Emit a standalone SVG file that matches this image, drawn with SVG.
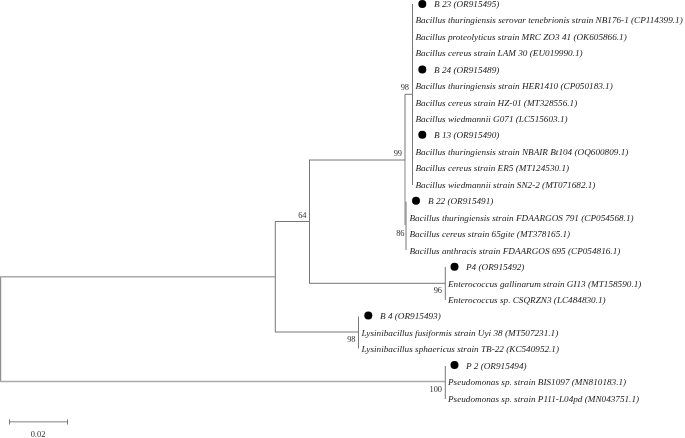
<svg xmlns="http://www.w3.org/2000/svg" width="685" height="438" viewBox="0 0 685 438">
<style>
.t{font:italic 9.2px "Liberation Serif",serif;fill:#222;filter:url(#soft)}
.n{font:8.4px "Liberation Serif",serif;fill:#333;filter:url(#soft)}
.dot{fill:#000}
#connectors path{fill:none;stroke:#777;stroke-width:1}
#connectors path.l{stroke:#aaa;stroke-width:1.4}
</style>
<defs><filter id="soft" x="-5%" y="-30%" width="110%" height="160%"><feGaussianBlur stdDeviation="0.25"/></filter></defs>
<rect width="685" height="438" fill="#fff"/>
<g id="connectors">
<path d="M.7 277V381.500"/>
<path class="l" d="M0 276.800H275M0 381.500H445M405 160V225M9.500 421.800H67.500"/>
<path d="M275.300 221.500V332M275 221.500H309.500M275 332H358.500"/>
<path d="M309.500 160V283.300M309 160H405M309 283.300H445"/>
<path d="M405 94.300H412.500M412.500 4V185M405 94.300V160"/>
<path d="M406 201.700V250"/>
<path d="M445.300 267V300M358.500 316.500V348.500M445.300 366V399"/>
<path d="M9.500 419.500V424.500M67.500 419.500V424.500"/>
</g>
<g id="scale"><text class="n" x="38" y="437" text-anchor="middle">0.02</text></g>
<g id="n1"><circle class="dot" cx="422.300" cy="4" r="4"/><text class="t" x="434" y="7">B 23 (OR915495)</text></g>
<g id="n2"><text class="t" x="415.500" y="23">Bacillus thuringiensis serovar tenebrionis strain NB176-1 (CP114399.1)</text></g>
<g id="n3"><text class="t" x="415.500" y="40">Bacillus proteolyticus strain MRC ZO3 41 (OK605866.1)</text></g>
<g id="n4"><text class="t" x="415.500" y="56">Bacillus cereus strain LAM 30 (EU019990.1)</text></g>
<g id="n5"><circle class="dot" cx="422.300" cy="69.500" r="4"/><text class="t" x="434" y="72.500">B 24 (OR915489)</text></g>
<g id="n6"><text class="t" x="415.500" y="89">Bacillus thuringiensis strain HER1410 (CP050183.1)</text></g>
<g id="n7"><text class="t" x="415.500" y="105.500">Bacillus cereus strain HZ-01 (MT328556.1)</text></g>
<g id="n8"><text class="t" x="415.500" y="122">Bacillus wiedmannii G071 (LC515603.1)</text></g>
<g id="n9"><circle class="dot" cx="422.300" cy="134.700" r="4"/><text class="t" x="434" y="138">B 13 (OR915490)</text></g>
<g id="n10"><text class="t" x="415.500" y="154.500">Bacillus thuringiensis strain NBAIR Bt104 (OQ600809.1)</text></g>
<g id="n11"><text class="t" x="415.500" y="171">Bacillus cereus strain ER5 (MT124530.1)</text></g>
<g id="n12"><text class="t" x="415.500" y="187.500">Bacillus wiedmannii strain SN2-2 (MT071682.1)</text></g>
<g id="n13"><circle class="dot" cx="416" cy="200.800" r="4"/><text class="t" x="428" y="204">B 22 (OR915491)</text></g>
<g id="n14"><text class="t" x="409.500" y="220.500">Bacillus thuringiensis strain FDAARGOS 791 (CP054568.1)</text></g>
<g id="n15"><text class="t" x="409.500" y="237">Bacillus cereus strain 65gite (MT378165.1)</text></g>
<g id="n16"><text class="t" x="409.500" y="253.500">Bacillus anthracis strain FDAARGOS 695 (CP054816.1)</text></g>
<g id="n17"><circle class="dot" cx="454.500" cy="266.800" r="4"/><text class="t" x="466" y="270">P4 (OR915492)</text></g>
<g id="n18"><text class="t" x="448" y="286.500">Enterococcus gallinarum strain GI13 (MT158590.1)</text></g>
<g id="n19"><text class="t" x="448" y="303">Enterococcus sp. CSQRZN3 (LC484830.1)</text></g>
<g id="n20"><circle class="dot" cx="368.300" cy="315.500" r="4"/><text class="t" x="380" y="319">B 4 (OR915493)</text></g>
<g id="n21"><text class="t" x="361.500" y="335.500">Lysinibacillus fusiformis strain Uyi 38 (MT507231.1)</text></g>
<g id="n22"><text class="t" x="361.500" y="352">Lysinibacillus sphaericus strain TB-22 (KC540952.1)</text></g>
<g id="n23"><circle class="dot" cx="454.500" cy="365" r="4"/><text class="t" x="466" y="368.500">P 2 (OR915494)</text></g>
<g id="n24"><text class="t" x="448" y="385">Pseudomonas sp. strain BIS1097 (MN810183.1)</text></g>
<g id="n25"><text class="t" x="448" y="401.500">Pseudomonas sp. strain P111-L04pd (MN043751.1)</text></g>
<g id="labels">
<text class="n" x="409" y="90" text-anchor="end">98</text>
<text class="n" x="402" y="155.500" text-anchor="end">99</text>
<text class="n" x="404.500" y="236" text-anchor="end">86</text>
<text class="n" x="306.500" y="218" text-anchor="end">64</text>
<text class="n" x="442" y="293" text-anchor="end">96</text>
<text class="n" x="355.500" y="342" text-anchor="end">98</text>
<text class="n" x="442" y="392" text-anchor="end">100</text>
</g>
</svg>
